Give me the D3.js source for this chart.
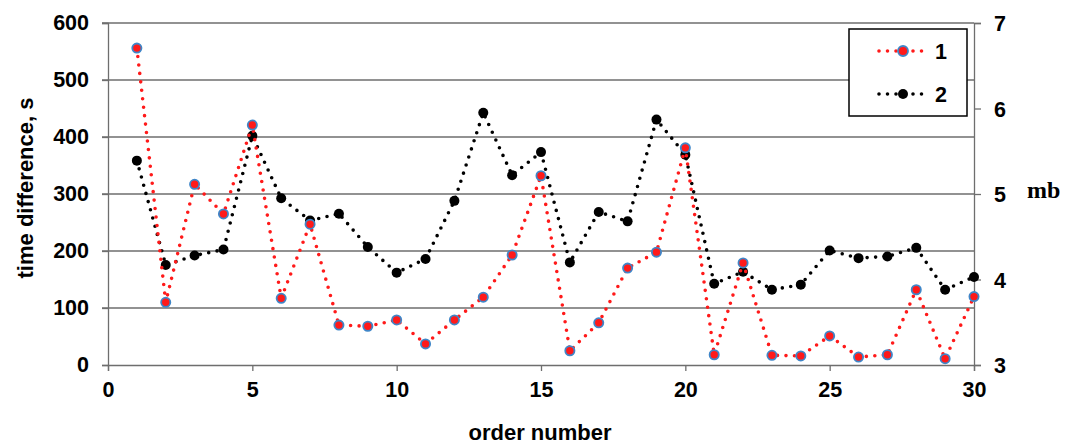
<!DOCTYPE html>
<html>
<head>
<meta charset="utf-8">
<script src="https://cdn.jsdelivr.net/npm/d3@7"></script>
<style>
    body { margin: 0; background: white; }
    svg text { font-family: Arial, "Liberation Sans", sans-serif; font-weight: bold; }
</style>
</head>
<body>
<svg id="chart" width="1073" height="445"></svg>
<script>

// order numbers 1..30
const order = d3.range(1, 31);

// series 1: time difference, s (left axis)
const timeDiff = [556, 110, 317, 265, 421, 117, 247, 70, 68, 79,
                  37, 79, 119, 193, 332, 25, 74, 170, 198, 381,
                  18, 179, 17, 16, 51, 14, 18, 132, 11, 120];

// series 2: mb (right axis)
const mb = [5.39, 4.17, 4.28, 4.35, 5.68, 4.95, 4.69, 4.77, 4.38, 4.08,
            4.24, 4.92, 5.95, 5.22, 5.49, 4.20, 4.79, 4.68, 5.87, 5.46,
            3.95, 4.09, 3.88, 3.94, 4.34, 4.25, 4.27, 4.37, 3.88, 4.03];

const xTicks = [0, 5, 10, 15, 20, 25, 30];
const leftTicks = [0, 100, 200, 300, 400, 500, 600];
const rightTicks = [3, 4, 5, 6, 7];
const legendLabels = ["1", "2"];

const svg = d3.select("#chart");

const plotLeft = 108, plotRight = 974, plotTop = 23, plotBottom = 365;

const x = d3.scaleLinear().domain([0, 30]).range([plotLeft, plotRight]);
const yL = d3.scaleLinear().domain([0, 600]).range([plotBottom, plotTop]);
const yR = d3.scaleLinear().domain([3, 7]).range([plotBottom, plotTop]);

const gridColor = "#6e6e6e";

// grid lines
svg.append("g")
    .selectAll("line")
    .data(leftTicks.filter(d => d > 0))
    .join("line")
    .attr("x1", plotLeft - 6)
    .attr("x2", plotRight)
    .attr("y1", d => yL(d))
    .attr("y2", d => yL(d))
    .attr("stroke", gridColor)
    .attr("stroke-width", 1.3);

// left axis
const gl = svg.append("g")
    .attr("transform", `translate(${plotLeft},0)`)
    .call(d3.axisLeft(yL).tickValues(leftTicks).tickSize(6).tickPadding(13));

// bottom axis
const gb = svg.append("g")
    .attr("transform", `translate(0,${plotBottom})`)
    .call(d3.axisBottom(x).tickValues(xTicks).tickSize(6).tickPadding(11));

// right axis
const gr = svg.append("g")
    .attr("transform", `translate(${plotRight},0)`)
    .call(d3.axisRight(yR).tickValues(rightTicks).tickFormat(d3.format("d"))
        .tickSize(7).tickPadding(13));

[gl, gb, gr].forEach(g => {
    g.select(".domain").attr("stroke", gridColor).attr("stroke-width", 1.3);
    g.selectAll(".tick line").attr("stroke", gridColor).attr("stroke-width", 1.3);
    g.selectAll(".tick text")
        .attr("fill", "black")
        .style("font-size", "21.5px")
        .style("font-family", "Arial, 'Liberation Sans', sans-serif")
        .style("font-weight", "bold");
});
gr.selectAll(".tick text").attr("dy", "0.36em");

// axis titles
svg.append("text")
    .attr("transform", "translate(33,188) rotate(-90)")
    .attr("text-anchor", "middle")
    .style("font-size", "22px")
    .text("time difference, s");

svg.append("text")
    .attr("x", 540)
    .attr("y", 440)
    .attr("text-anchor", "middle")
    .style("font-size", "22px")
    .text("order number");

svg.append("text")
    .attr("x", 1027)
    .attr("y", 198)
    .style("font-family", "'Liberation Serif', 'DejaVu Serif', serif")
    .style("font-size", "24px")
    .style("font-weight", "bold")
    .text("mb");

// series
const line1 = d3.line().x((d, i) => x(order[i])).y(d => yL(d));
const line2 = d3.line().x((d, i) => x(order[i])).y(d => yR(d));

svg.append("path")
    .attr("d", line2(mb))
    .attr("fill", "none")
    .attr("stroke", "black")
    .attr("stroke-width", 3.6)
    .attr("stroke-linecap", "round")
    .attr("stroke-dasharray", "0 8.5");

svg.append("g")
    .selectAll("circle")
    .data(mb)
    .join("circle")
    .attr("cx", (d, i) => x(order[i]))
    .attr("cy", d => yR(d))
    .attr("r", 5)
    .attr("fill", "black");

svg.append("path")
    .attr("d", line1(timeDiff))
    .attr("fill", "none")
    .attr("stroke", "#ff1a1a")
    .attr("stroke-width", 3.6)
    .attr("stroke-linecap", "round")
    .attr("stroke-dasharray", "0 8.5");

svg.append("g")
    .selectAll("circle")
    .data(timeDiff)
    .join("circle")
    .attr("cx", (d, i) => x(order[i]))
    .attr("cy", d => yL(d))
    .attr("r", 4.6)
    .attr("fill", "#ff1a1a")
    .attr("stroke", "#3f86c8")
    .attr("stroke-width", 1.8);

// legend
const lg = svg.append("g");

lg.append("rect")
    .attr("x", 849)
    .attr("y", 29)
    .attr("width", 118)
    .attr("height", 87)
    .attr("fill", "white")
    .attr("stroke", "black")
    .attr("stroke-width", 1.5);

const legendRows = [
    {label: legendLabels[0], color: "#ff1a1a", stroke: "#3f86c8", y: 51},
    {label: legendLabels[1], color: "black", stroke: "none", y: 94}
];

legendRows.forEach(r => {
    lg.append("line")
        .attr("x1", 879).attr("x2", 927)
        .attr("y1", r.y).attr("y2", r.y)
        .attr("stroke", r.color)
        .attr("stroke-width", 3.6)
        .attr("stroke-linecap", "round")
        .attr("stroke-dasharray", "0 8.5");
    lg.append("circle")
        .attr("cx", 903).attr("cy", r.y)
        .attr("r", 5)
        .attr("fill", r.color)
        .attr("stroke", r.stroke)
        .attr("stroke-width", 1.8);
    lg.append("text")
        .attr("x", 935).attr("y", r.y)
        .attr("dy", "0.36em")
        .style("font-size", "21.5px")
        .text(r.label);
});

</script>
</body>
</html>
